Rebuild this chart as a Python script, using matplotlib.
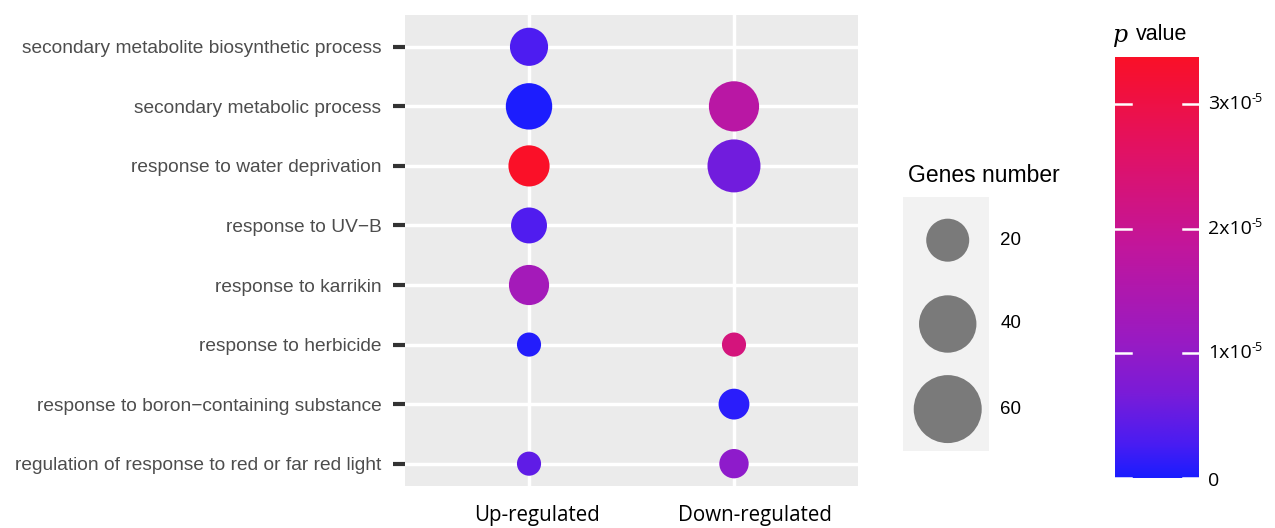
import matplotlib
matplotlib.use("Agg")
import matplotlib.pyplot as plt
from matplotlib.colors import LinearSegmentedColormap, Normalize
import numpy as np

terms = ["secondary metabolite biosynthetic process",
         "secondary metabolic process",
         "response to water deprivation",
         "response to UV\u2212B",
         "response to karrikin",
         "response to herbicide",
         "response to boron\u2212containing substance",
         "regulation of response to red or far red light"]
groups = ["Up-regulated", "Down-regulated"]

# up-regulated: term index, genes number, p value
up_term = [0, 1, 2, 3, 4, 5, 7]
up_genes = [15, 24, 18, 13, 17, 5, 5]
up_p = [0.3e-5, 0.016e-5, 3.38e-5, 0.32e-5, 1.3e-5, 0.06e-5, 0.45e-5]

# down-regulated
down_term = [1, 2, 5, 6, 7]
down_genes = [29, 33, 5, 9, 8]
down_p = [1.7e-5, 0.6e-5, 2.3e-5, 0.1e-5, 0.95e-5]

legend_genes = [20, 40, 60]
cbar_ticks = [0, 1e-5, 2e-5, 3e-5]
cbar_base = ["0", "1x10", "2x10", "3x10"]
cbar_sup = ["", "-5", "-5", "-5"]

DPI = 100
W, H = 1275, 528


def diam(n):
    # bubble diameter in px
    return 43 * (np.asarray(n, float) / 20.0) ** 0.417


def msize(n):
    return (diam(n) * 72.0 / DPI) ** 2


cmap = LinearSegmentedColormap.from_list("bluered", [
    (0.0, "#1a1dff"), (0.08, "#4a1cf2"), (0.2, "#7a1cd8"), (0.32, "#981bc4"),
    (0.55, "#c2169c"), (0.78, "#e21264"), (1.0, "#fa1028")])
allp = up_p + down_p
norm = Normalize(0, max(allp))

fig = plt.figure(figsize=(W / DPI, H / DPI), dpi=DPI)


def fx(px):
    return px / W


def fy(py):
    return 1 - py / H


# main panel
ax = fig.add_axes([fx(405), fy(486), fx(858 - 405), (486 - 15) / H])
ax.set_facecolor("#ebebeb")
n = len(terms)
ypos = lambda i: n - i
ax.set_xlim(-0.605, 1.605)
ax.set_ylim(1 - 0.375, n + 0.534)
ax.set_xticks([0, 1])
ax.set_yticks([ypos(i) for i in range(n)])
ax.set_yticklabels(terms, fontsize=13.8, color="#4d4d4d", family="Liberation Sans")
ax.set_xticklabels([])
ax.tick_params(axis="y", length=9, width=3, color="#333333", pad=8)
ax.tick_params(axis="x", length=0)
ax.grid(True, color="white", linewidth=2.5)
ax.set_axisbelow(True)
for s in ax.spines.values():
    s.set_visible(False)

ax.scatter(np.zeros(len(up_term)), [ypos(i) for i in up_term], s=msize(up_genes),
           c=up_p, cmap=cmap, norm=norm, linewidths=0, zorder=3)
ax.scatter(np.ones(len(down_term)), [ypos(i) for i in down_term], s=msize(down_genes),
           c=down_p, cmap=cmap, norm=norm, linewidths=0, zorder=3)

for gx, g, off in zip([0, 1], groups, [6, 15]):
    ax.annotate(g, xy=(gx, 0), xycoords=ax.get_xaxis_transform(),
                xytext=(off, -25.5), textcoords="offset points", ha="center",
                va="baseline", fontsize=14.8, family="Open Sans", color="black")

# size legend
lax = fig.add_axes([fx(903), fy(451), fx(989 - 903), (451 - 197) / H])
lax.set_facecolor("#f2f2f2")
lax.set_xlim(0, 1)
lax.set_ylim(0, 1)
ly = [0.83, 0.50, 0.165]
lax.scatter([0.52] * 3, ly, s=msize(legend_genes), color="#7a7a7a", linewidths=0)
for yy, g in zip(ly, legend_genes):
    lax.text(1.13, yy, str(g), ha="left", va="center", fontsize=13.5,
             family="Liberation Sans", transform=lax.transAxes)
lax.set_xticks([])
lax.set_yticks([])
for s in lax.spines.values():
    s.set_visible(False)
fig.text(fx(984), fy(176), "Genes number", ha="center", va="center", fontsize=16.5,
         family="Liberation Sans")

# colour bar
cax = fig.add_axes([fx(1115), fy(478), fx(1199 - 1115), (478 - 57) / H])
grad = np.linspace(norm.vmin, norm.vmax, 256).reshape(-1, 1)
cax.imshow(grad, aspect="auto", cmap=cmap, norm=norm, origin="lower",
           extent=[0, 1, norm.vmin, norm.vmax])
cax.set_xlim(0, 1)
cax.set_ylim(norm.vmin, norm.vmax)
for v in cbar_ticks:
    cax.plot([0, 0.19], [v, v], color="white", lw=1.8, clip_on=False)
    cax.plot([0.81, 1], [v, v], color="white", lw=1.8, clip_on=False)
cax.set_xticks([])
cax.set_yticks([])
for s in cax.spines.values():
    s.set_visible(False)

renderer = fig.canvas.get_renderer()
for v, b, sup in zip(cbar_ticks, cbar_base, cbar_sup):
    t = cax.annotate(b, xy=(1, v), xycoords=("axes fraction", "data"),
                     xytext=(6.5, -2 if v == 0 else 0), textcoords="offset points",
                     ha="left", va="center", fontsize=14, family="Open Sans")
    if sup:
        bw = t.get_window_extent(renderer).width * 72.0 / DPI
        cax.annotate(sup, xy=(1, v), xycoords=("axes fraction", "data"),
                     xytext=(6.5 + bw, 4), textcoords="offset points",
                     ha="left", va="center", fontsize=9, family="Open Sans")

fig.text(fx(1112), fy(37), r"$p$", ha="left", va="center", fontsize=17,
         math_fontfamily="dejavuserif")
fig.text(fx(1136), fy(35), "value", ha="left", va="center", fontsize=15.5,
         family="Liberation Sans")

fig.savefig("out.png", dpi=DPI)
